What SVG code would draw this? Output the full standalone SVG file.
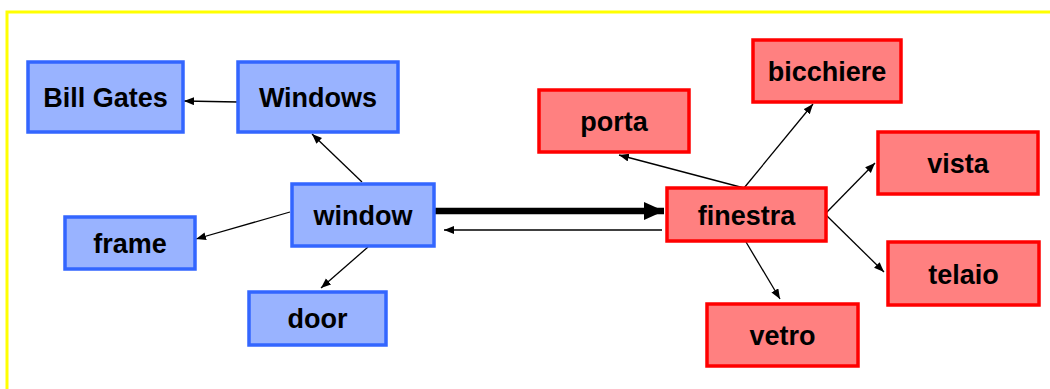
<svg xmlns="http://www.w3.org/2000/svg" width="1050" height="389" viewBox="0 0 1050 389">
<style>
.b{fill:#99B3FF;stroke:#3366FF;stroke-width:3.5}
.r{fill:#FF8080;stroke:#FF0000;stroke-width:3.5}
text{font-family:"Liberation Sans",Arial,sans-serif;font-weight:bold;font-size:27px;fill:#000;text-anchor:middle}
.e{stroke:#000;stroke-width:1.3;fill:none;marker-end:url(#a)}
</style>
<defs>
<marker id="a" markerUnits="userSpaceOnUse" markerWidth="12" markerHeight="10" refX="10" refY="4" orient="auto"><path d="M0,0 L10,4 L0,8 Z" fill="#000"/></marker>
<marker id="t" markerUnits="userSpaceOnUse" markerWidth="22" markerHeight="20" refX="20" refY="9" orient="auto"><path d="M0,0 L20,9 L0,18 Z" fill="#000"/></marker>
</defs>
<rect x="0" y="0" width="1050" height="389" fill="#fff"/>
<rect x="7" y="12" width="1060" height="400" fill="none" stroke="#FFFF00" stroke-width="3"/>
<g id="connectors">
<line class="e" x1="238" y1="102" x2="184" y2="101"/>
<line class="e" x1="362" y1="182" x2="312" y2="134"/>
<line class="e" x1="290" y1="212" x2="196" y2="239"/>
<line class="e" x1="368" y1="247" x2="321" y2="288"/>
<line x1="435" y1="211" x2="664" y2="211" stroke="#000" stroke-width="6.5" marker-end="url(#t)"/>
<line class="e" x1="662" y1="230" x2="444" y2="230" stroke="#333"/>
<line class="e" x1="744" y1="188" x2="619" y2="155"/>
<line class="e" x1="744" y1="188" x2="813" y2="104"/>
<line class="e" x1="826" y1="213" x2="875" y2="163"/>
<line class="e" x1="826" y1="215" x2="884" y2="272"/>
<line class="e" x1="746" y1="242" x2="780" y2="299"/>
</g>
<g id="billgates"><rect class="b" x="28" y="62" width="155" height="70"/><text x="105.5" y="107">Bill Gates</text></g>
<g id="windows"><rect class="b" x="238" y="62" width="160" height="70"/><text x="318" y="107">Windows</text></g>
<g id="window"><rect class="b" x="292" y="184" width="142" height="62"/><text x="363" y="225">window</text></g>
<g id="frame"><rect class="b" x="65" y="217" width="130" height="52"/><text x="130" y="253">frame</text></g>
<g id="door"><rect class="b" x="249" y="292" width="137" height="53"/><text x="317.5" y="328">door</text></g>
<g id="porta"><rect class="r" x="539" y="90" width="150" height="62"/><text x="614" y="131">porta</text></g>
<g id="bicchiere"><rect class="r" x="753" y="40" width="148" height="62"/><text x="827" y="81">bicchiere</text></g>
<g id="vista"><rect class="r" x="878" y="132" width="160" height="62"/><text x="958" y="173">vista</text></g>
<g id="finestra"><rect class="r" x="667" y="188" width="159" height="53"/><text x="746.5" y="225">finestra</text></g>
<g id="telaio"><rect class="r" x="888" y="242" width="151" height="63"/><text x="963.5" y="284">telaio</text></g>
<g id="vetro"><rect class="r" x="707" y="304" width="151" height="62"/><text x="782.5" y="345">vetro</text></g>
</svg>
